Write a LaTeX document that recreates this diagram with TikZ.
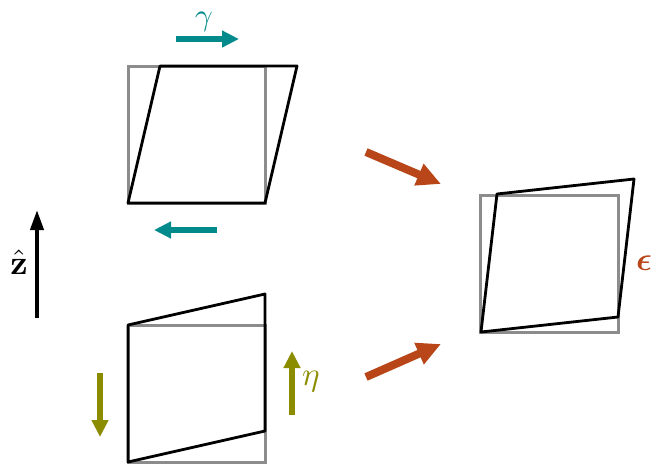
\documentclass[tikz,border=0pt]{standalone}
\usepackage{amsmath,bm}
\usetikzlibrary{arrows.meta}
\definecolor{tealc}{RGB}{0,138,140}
\definecolor{orangec}{RGB}{184,70,24}
\definecolor{olivec}{RGB}{140,140,0}
\definecolor{grayc}{RGB}{140,140,140}
\begin{document}
\begin{tikzpicture}[x=1pt,y=-1pt,
  ref/.style={draw=grayc,line width=3pt},
  def/.style={draw=black,line width=2.8pt,line join=round},
  tealarrow/.style={draw=tealc,line width=6pt,-{Triangle[length=17pt,width=16pt]}},
  olivearrow/.style={draw=olivec,line width=6pt,-{Triangle[length=17pt,width=16pt]}},
  orangearrow/.style={draw=orangec,line width=8pt,-{Triangle[length=24pt,width=22pt]}},
  zarrow/.style={draw=black,line width=4pt,-{Triangle[length=20pt,width=13pt]}},
  lab/.style={inner sep=0pt,scale=3.3}]
\useasboundingbox (0,0) rectangle (664,464);
% top panel: shear gamma
\draw[ref] (128,66) rectangle (265,203);
\draw[def] (128,203) -- (265,203) -- (297,66) -- (160,66) -- cycle;
\coordinate (g1) at (176,39); \coordinate (g2) at (239,39);
\draw[tealarrow] (g1) -- (g2);
\node[inner sep=0pt,scale=3.1,text=tealc] (gam) at (204,22) {$\gamma$};
\coordinate (h1) at (217,230); \coordinate (h2) at (154,230);
\draw[tealarrow] (h1) -- (h2);
% bottom panel: eta
\draw[ref] (128,325) rectangle (265,462);
\draw[def] (128,325) -- (265,294) -- (265,431) -- (128,462) -- cycle;
\coordinate (e1) at (292,415); \coordinate (e2) at (292,351);
\draw[olivearrow] (e1) -- (e2);
\node[lab,text=olivec] (eta) at (311,382) {$\eta$};
\coordinate (f1) at (100,373); \coordinate (f2) at (100,437);
\draw[olivearrow] (f1) -- (f2);
% right panel: epsilon
\draw[ref] (480,195) rectangle (618,332);
\draw[def] (481,332) -- (618,317) -- (634,179) -- (497,194) -- cycle;
\node[lab,text=orangec] (eps) at (644,263) {$\bm{\epsilon}$};
% orange arrows
\coordinate (o1) at (366,152); \coordinate (o2) at (441,184);
\draw[orangearrow] (o1) -- (o2);
\coordinate (p1) at (366,377); \coordinate (p2) at (441,344);
\draw[orangearrow] (p1) -- (p2);
% z axis
\coordinate (z1) at (37,318); \coordinate (z2) at (37,210);
\draw[zarrow] (z1) -- (z2);
\node[inner sep=0pt,scale=3.4] (zhat) at (19,262) {$\hat{\mathbf{z}}$};
\end{tikzpicture}
\end{document}
